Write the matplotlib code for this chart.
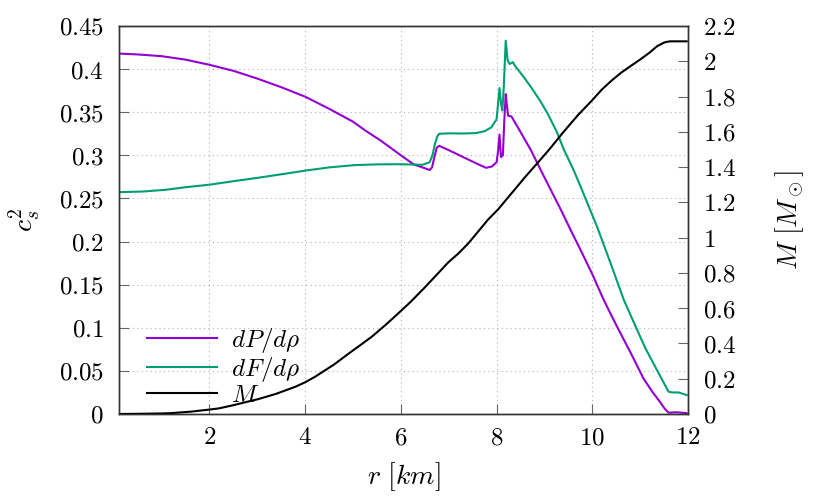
import matplotlib
matplotlib.use("Agg")
import matplotlib.pyplot as plt
from matplotlib.ticker import FuncFormatter, MultipleLocator

plt.rcParams['mathtext.fontset'] = 'cm'
plt.rcParams['font.family'] = 'serif'
plt.rcParams['font.serif'] = ['DejaVu Serif']

# dF/drho (green)
green_r = [0.11, 0.6, 1.08, 1.5, 2.01, 2.5, 3.02, 3.5, 4.02, 4.5, 5.02, 5.5, 5.99, 6.45,
           6.6, 6.66, 6.71, 6.76, 6.8, 7.0, 7.3, 7.57, 7.75, 7.89, 8.0, 8.03, 8.06, 8.09,
           8.12, 8.15, 8.19, 8.23, 8.27, 8.34, 8.38, 8.55, 8.72, 8.9, 9.07, 9.25, 9.41,
           9.6, 9.76, 9.93, 10.1, 10.4, 10.66, 10.9, 11.11, 11.35, 11.59, 11.66, 11.8,
           11.97]
green_v = [0.2573, 0.258, 0.26, 0.263, 0.266, 0.27, 0.274, 0.278, 0.2824, 0.286, 0.2886,
           0.2895, 0.2897, 0.289, 0.292, 0.300, 0.313, 0.322, 0.325, 0.3255, 0.3253,
           0.3258, 0.328, 0.3325, 0.342, 0.360, 0.378, 0.360, 0.352, 0.380, 0.433, 0.41,
           0.406, 0.408, 0.404, 0.392, 0.379, 0.364, 0.348, 0.328, 0.306, 0.284, 0.263,
           0.24, 0.217, 0.172, 0.132, 0.102, 0.076, 0.051, 0.026, 0.025, 0.025, 0.022]

# dP/drho (purple)
purple_r = [0.11, 0.5, 1.0, 1.5, 2.0, 2.5, 3.0, 3.5, 4.0, 4.5, 5.0, 5.25, 5.58, 6.0, 6.27,
            6.5, 6.6, 6.65, 6.7, 6.75, 6.8, 7.0, 7.3, 7.6, 7.78, 7.9, 8.0, 8.03, 8.06,
            8.09, 8.13, 8.16, 8.19, 8.21, 8.24, 8.31, 8.5, 8.72, 8.93, 9.14, 9.35, 9.55,
            9.8, 10.0, 10.24, 10.5, 10.8, 11.07, 11.25, 11.4, 11.5, 11.59, 11.75, 11.97]
purple_v = [0.418, 0.417, 0.415, 0.411, 0.405, 0.398, 0.389, 0.379, 0.368, 0.354, 0.339,
            0.329, 0.317, 0.300, 0.2894, 0.285, 0.283, 0.286, 0.298, 0.309, 0.311, 0.306,
            0.298, 0.290, 0.2855, 0.287, 0.292, 0.305, 0.324, 0.298, 0.300, 0.34, 0.371,
            0.36, 0.346, 0.345, 0.327, 0.3056, 0.282, 0.259, 0.236, 0.213, 0.185, 0.162,
            0.132, 0.103, 0.071, 0.041, 0.026, 0.015, 0.007, 0.0015, 0.002, 0.001]

# enclosed mass M (black, right axis)
m_r = [0.11, 0.5, 1.0, 1.2, 1.4, 1.6, 1.8, 2.0, 2.2, 2.5, 2.8, 3.0, 3.19, 3.4, 3.6, 3.8,
       4.0, 4.2, 4.4, 4.6, 4.92, 5.2, 5.4, 5.7, 5.99, 6.2, 6.5, 6.75, 6.99, 7.2, 7.4, 7.6,
       7.82, 8.03, 8.4, 8.6, 8.86, 9.1, 9.4, 9.7, 10.0, 10.2, 10.4, 10.6, 10.8, 11.0,
       11.2, 11.35, 11.49, 11.55, 11.63, 11.97]
m_v = [0.0, 0.001, 0.003, 0.005, 0.009, 0.013, 0.019, 0.025, 0.032, 0.05, 0.07, 0.083,
       0.098, 0.115, 0.135, 0.155, 0.18, 0.21, 0.245, 0.28, 0.345, 0.4, 0.44, 0.51,
       0.582, 0.635, 0.718, 0.79, 0.86, 0.91, 0.965, 1.03, 1.102, 1.16, 1.28, 1.345,
       1.425, 1.5, 1.6, 1.695, 1.78, 1.84, 1.89, 1.935, 1.973, 2.01, 2.05, 2.085,
       2.105, 2.11, 2.113, 2.113]

fig = plt.figure(figsize=(8.3, 4.98), dpi=100)
ax = fig.add_axes([0.1434, 0.1687, 0.6856, 0.7791])
ax2 = ax.twinx()

fmt = FuncFormatter(lambda v, p: "$%g$" % round(v, 3))

l1, = ax.plot(purple_r, purple_v, color='#9400D3', lw=1.5, label=r'$dP/d\rho$')
l2, = ax.plot(green_r, green_v, color='#009E73', lw=1.5, label=r'$dF/d\rho$')
l3, = ax2.plot(m_r, m_v, color='black', lw=1.5, label=r'$M$')

ax.set_xlim(0.11, 12.0)
ax.set_ylim(0, 0.45)
ax2.set_ylim(0, 2.2)
ax.xaxis.set_major_locator(MultipleLocator(2))
ax.yaxis.set_major_locator(MultipleLocator(0.05))
ax2.yaxis.set_major_locator(MultipleLocator(0.2))
ax.xaxis.set_major_formatter(fmt)
ax.yaxis.set_major_formatter(fmt)
ax2.yaxis.set_major_formatter(fmt)

ax.grid(True, color='#b0b0b0', linestyle=(0, (1, 3)), lw=0.8)
ax.tick_params(axis='y', direction='in', length=7, labelsize=18, color='#666666',
               pad=11, right=False)
ax.tick_params(axis='x', direction='in', length=7, labelsize=18, color='#666666',
               pad=9, top=False)
ax2.tick_params(direction='in', length=7, labelsize=18, color='#666666', pad=11)

for a in (ax, ax2):
    for s in a.spines.values():
        s.set_color('#333333')
        s.set_linewidth(1.0)

ax.set_xlabel(r'$r\ [km]$', fontsize=20, labelpad=8)
ax.set_ylabel(r'$c_s^2$', fontsize=20, labelpad=12)
ax2.set_ylabel(r'$M\ [M_\odot]$', fontsize=20, labelpad=26)

ax.legend([l1, l2, l3], [l1.get_label(), l2.get_label(), l3.get_label()],
          loc='lower left', bbox_to_anchor=(0.01, -0.04), frameon=False,
          fontsize=18, handlelength=2.8, labelspacing=0.0, handletextpad=0.55)

fig.savefig('out.png', dpi=100)
